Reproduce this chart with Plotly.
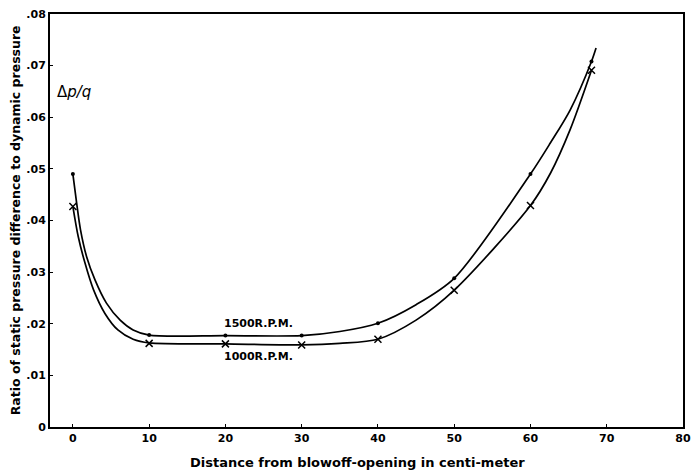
import plotly.graph_objects as go

# Measured points (distance in cm, delta p / q)
x_1500 = [0, 10, 20, 30, 40, 50, 60, 68]
y_1500 = [0.0490, 0.0178, 0.0177, 0.0177, 0.0201, 0.0288, 0.0490, 0.0708]
x_1000 = [0, 10, 20, 30, 40, 50, 60, 68]
y_1000 = [0.0427, 0.0162, 0.0161, 0.0159, 0.0170, 0.0265, 0.0429, 0.0691]

# Faired curves as drawn in the picture
cx_1500 = [0, 0.5, 1.0, 1.8, 2.9, 4.4, 6.2, 7.9, 10, 20, 30, 35, 40, 45, 50, 60, 62.6, 65.2, 68, 68.6]
cy_1500 = [0.0490, 0.0433, 0.0382, 0.0330, 0.0285, 0.0240, 0.0207, 0.0188, 0.0178,
           0.0177, 0.0177, 0.0185, 0.0201, 0.0237, 0.0288, 0.0490, 0.0550, 0.0614, 0.0708, 0.0734]
cx_1000 = [0, 0.7, 1.6, 2.7, 4.2, 5.9, 7.9, 10, 20, 30, 35, 40, 45, 50, 60, 62.6, 65.2, 68]
cy_1000 = [0.0427, 0.0369, 0.0317, 0.0266, 0.0220, 0.0188, 0.0170, 0.0163,
           0.0161, 0.0159, 0.0162, 0.0170, 0.0207, 0.0265, 0.0429, 0.0491, 0.0576, 0.0691]

x_ticks = [0, 10, 20, 30, 40, 50, 60, 70, 80]
y_ticks = [0, 0.01, 0.02, 0.03, 0.04, 0.05, 0.06, 0.07, 0.08]
y_ticktext = ["0", ".01", ".02", ".03", ".04", ".05", ".06", ".07", ".08"]

FONT = "DejaVu Sans"

fig = go.Figure()
fig.add_trace(go.Scatter(x=cx_1500, y=cy_1500, mode="lines", line=dict(color="black", width=1.7, shape="spline", smoothing=0.8), hoverinfo="skip", showlegend=False))
fig.add_trace(go.Scatter(x=cx_1000, y=cy_1000, mode="lines", line=dict(color="black", width=1.7, shape="spline", smoothing=0.8), hoverinfo="skip", showlegend=False))
fig.add_trace(go.Scatter(x=x_1500, y=y_1500, mode="markers", marker=dict(color="black", size=4, symbol="circle"), name="1500 R.P.M.", showlegend=False))
fig.add_trace(go.Scatter(x=x_1000, y=y_1000, mode="markers", marker=dict(color="black", size=7, symbol="x-thin", line=dict(color="black", width=1.5)), name="1000 R.P.M.", showlegend=False))

fig.update_xaxes(range=[-3, 80], tickvals=x_ticks, ticks="inside", ticklen=3, tickcolor="black", automargin=False,
                 ticklabeloverflow="allow",
                 showline=True, linecolor="black", linewidth=2, mirror=True, showgrid=False, zeroline=False,
                 tickfont=dict(family=FONT, size=11, color="black", weight="bold"))
fig.update_yaxes(range=[0, 0.08], tickvals=y_ticks, ticktext=y_ticktext, ticks="inside", ticklen=3, tickcolor="black", automargin=False,
                 ticklabeloverflow="allow",
                 showline=True, linecolor="black", linewidth=2, mirror=True, showgrid=False, zeroline=False,
                 tickfont=dict(family=FONT, size=11, color="black", weight="bold"))

fig.add_annotation(text="Ratio of static pressure difference to dynamic pressure", xref="paper", yref="paper",
                   x=-0.054, y=0.5, textangle=-90, showarrow=False, xanchor="center", yanchor="middle",
                   font=dict(family=FONT, size=12.5, color="black", weight="bold"))
fig.add_annotation(text="Distance from blowoff-opening in centi-meter", xref="paper", yref="paper",
                   x=0.485, y=-0.087, showarrow=False, xanchor="center", yanchor="middle",
                   font=dict(family=FONT, size=13, color="black", weight="bold"))
fig.add_annotation(text="Δ<i>p/q</i>", xref="paper", yref="paper", x=0.008, y=0.811, showarrow=False,
                   xanchor="left", yanchor="middle", font=dict(family=FONT, size=15, color="black"))
fig.add_annotation(text="1500R.P.M.", x=19.6, y=0.0200, showarrow=False, xanchor="left", yanchor="middle",
                   font=dict(family=FONT, size=11, color="black", weight="bold"))
fig.add_annotation(text="1000R.P.M.", x=19.6, y=0.0137, showarrow=False, xanchor="left", yanchor="middle",
                   font=dict(family=FONT, size=11, color="black", weight="bold"))

fig.update_layout(width=692, height=476, margin=dict(l=50, r=9, t=14, b=49),
                  paper_bgcolor="white", plot_bgcolor="white", showlegend=False)

# Remove the default page margin so the 692x476 figure fills the window exactly.
fig.write_html("out.html", config={"displayModeBar": False},
               post_script="document.body.style.margin='0';document.body.style.overflow='hidden';")
